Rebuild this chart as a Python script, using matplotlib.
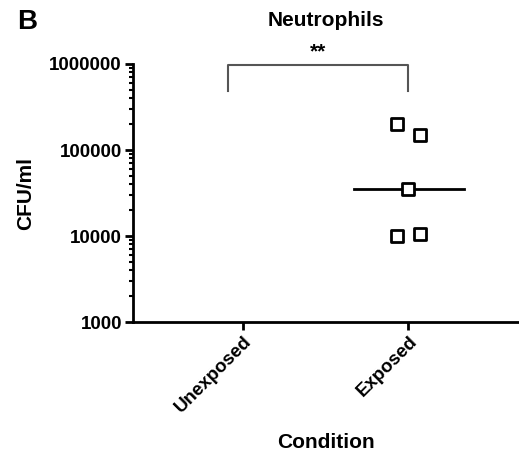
import numpy as np
import matplotlib
matplotlib.use('Agg')
import matplotlib.pyplot as plt
from matplotlib.ticker import LogLocator, FixedLocator, NullFormatter

plt.rcParams['font.family'] = ['Liberation Sans', 'DejaVu Sans']
plt.rcParams['font.weight'] = 'bold'

categories = ['Unexposed', 'Exposed']
exposed_x = [0.93, 1.07, 1.0, 0.93, 1.07]
exposed_cfu = [200000, 150000, 35000, 10000, 10500]
median_cfu = 35000

fig = plt.figure(figsize=(5.19, 4.61), dpi=100)
ax = fig.add_axes([133 / 519, 1 - 322 / 461, 1 - 133 / 519, (322 - 64) / 461])

ax.scatter(exposed_x, exposed_cfu, marker='s', s=70, facecolors='white',
           edgecolors='black', linewidths=2, zorder=3)
ax.plot([0.67, 1.34], [median_cfu, median_cfu], color='black', lw=2, zorder=2)

ax.set_yscale('log')
ax.set_ylim(1000, 1000000)
ax.set_xlim(-0.667, 1.67)
ax.set_xticks([0, 1])
ax.set_xticklabels(categories, rotation=45, ha='right', rotation_mode='anchor',
                   fontsize=13.5, fontweight='bold')
ax.yaxis.set_major_locator(FixedLocator([1e3, 1e4, 1e5, 1e6]))
ax.set_yticklabels(['1000', '10000', '100000', '1000000'], fontsize=13.5, fontweight='bold')
ax.yaxis.set_minor_locator(LogLocator(base=10, subs=np.arange(2, 10)))
ax.yaxis.set_minor_formatter(NullFormatter())

for s in ['top', 'right']:
    ax.spines[s].set_visible(False)
for s in ['left', 'bottom']:
    ax.spines[s].set_linewidth(2)
ax.tick_params(axis='both', which='major', width=2, length=6, direction='out', pad=2)
ax.tick_params(axis='y', which='minor', width=1.5, length=3)

ax.set_ylabel('CFU/ml', fontsize=15, fontweight='bold', labelpad=10)
ax.set_xlabel('Condition', fontsize=15, fontweight='bold', labelpad=12)
ax.set_title('Neutrophils', fontsize=15, fontweight='bold', pad=27)

# significance bracket
bx0, bx1 = -0.09, 1.0
ytop, ybot = 1.0e6 * 0.97, 4.9e5
ax.plot([bx0, bx0, bx1, bx1], [ybot, ytop, ytop, ybot], color='#555555', lw=1.5,
        clip_on=False)
ax.text((bx0 + bx1) / 2, 1.08e6, '**', ha='center', va='bottom', fontsize=15,
        fontweight='bold')

fig.text(17 / 519, 1 - 22 / 461, 'B', fontsize=20, fontweight='bold', va='center')

fig.savefig('out.png', dpi=100)
